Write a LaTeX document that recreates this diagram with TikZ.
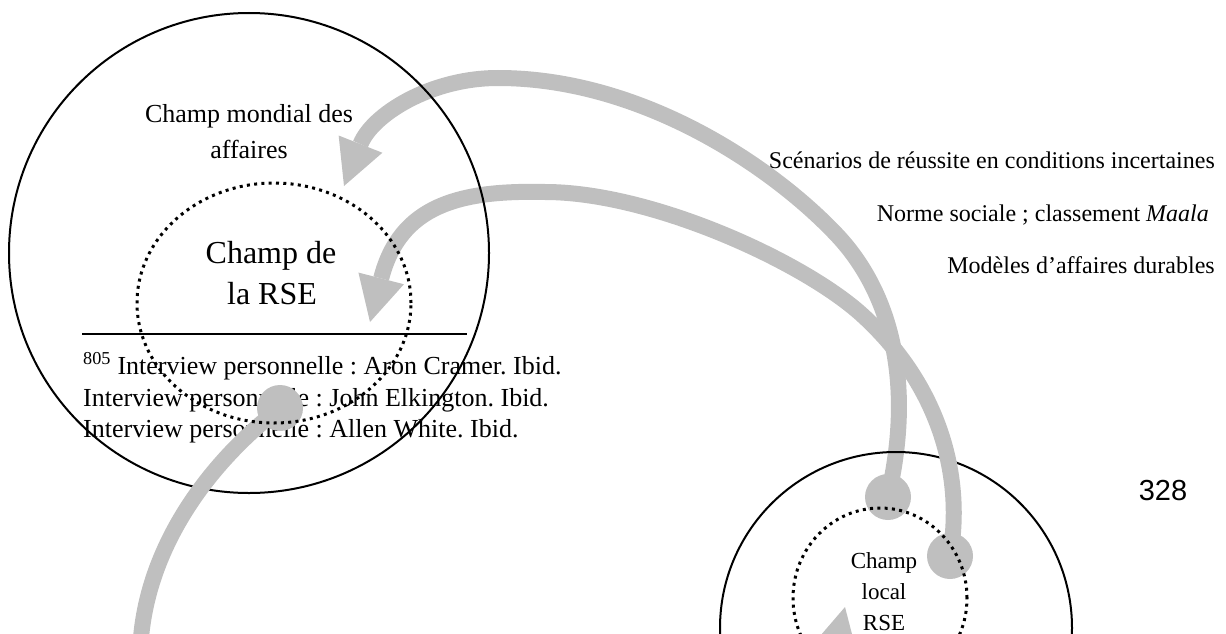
\documentclass[tikz,border=0pt]{standalone}
\usepackage{fontspec}
\setmainfont{Liberation Serif}
\newfontfamily\arialfont{Liberation Sans}
\usetikzlibrary{arrows.meta,shapes.geometric}
\definecolor{arrowgray}{RGB}{191,191,191}
\frenchspacing
\begin{document}
\begin{tikzpicture}[x=1pt,y=-1pt,
  field/.style={draw=black, line width=2pt, circle, inner sep=0pt},
  dotfield/.style={draw=black, line width=3pt, dash pattern=on 3pt off 4.3pt, ellipse, inner sep=0pt},
  ball/.style={circle, fill=arrowgray, minimum size=46pt, inner sep=0pt},
  shaft/.style={draw=arrowgray, line width=16pt, -{Triangle[length=45pt,width=47pt,line width=0pt]}},
  lbl/.style={inner sep=0pt, font=\fontsize{26}{31}\selectfont},
  big/.style={inner sep=0pt, font=\fontsize{32}{38}\selectfont},
  side/.style={inner sep=0pt, font=\fontsize{24}{29}\selectfont, anchor=base east},
  small/.style={inner sep=0pt, font=\fontsize{23}{28}\selectfont, anchor=base},
  rule/.style={draw=black, line width=2pt}
]
\useasboundingbox (0,0) rectangle (1226,634);
\clip (0,0) rectangle (1226,634);

% texts
\node[lbl, anchor=base] (m1) at (249,122) {Champ mondial des};
\node[lbl, anchor=base] (m2) at (249,158) {affaires};
\node[big, anchor=base] (r1) at (271,263) {Champ de};
\node[big, anchor=base] (r2) at (272,304) {la RSE};
\node[lbl, anchor=base west] (f1) at (83,374) {\textsuperscript{805} Interview personnelle : Aron Cramer. Ibid.};
\node[lbl, anchor=base west] (f2) at (83,406) {Interview personnelle : John Elkington. Ibid.};
\node[lbl, anchor=base west] (f3) at (83,437) {Interview personnelle : Allen White. Ibid.};
\node[side] (s1) at (1215,168) {Scénarios de réussite en conditions incertaines};
\node[side] (s2) at (1209,221) {Norme sociale ; classement \textit{Maala}};
\node[side] (s3) at (1215,273) {Modèles d’affaires durables};
\node[small] (l1) at (884,568) {Champ};
\node[small] (l2) at (884,599) {local};
\node[small] (l3) at (884,630) {RSE};
\node[inner sep=0pt, anchor=base, font=\arialfont\fontsize{29}{34}\selectfont] (pg) at (1163,500) {328};

% upper arrow
\coordinate (tipU) at (344,186);
\node[ball] (b1) at (888,497) {};
\draw[shaft] (b1.center) .. controls (915,380) and (890,290) .. (835,233)
  .. controls (770,165) and (640,78) .. (498,78)
  .. controls (430,78) and (372,115) .. (tipU);

% right circle
\node[field, minimum size=352pt] (loc) at (896,628) {};

% lower arrow
\coordinate (tipL) at (370,322);
\node[ball] (b2) at (950,556) {};
\draw[shaft] (b2.center) .. controls (965,470) and (935,380) .. (860,313)
  .. controls (800,260) and (650,192) .. (545,192)
  .. controls (460,190) and (400,205) .. (tipL);

% left circle
\node[field, minimum size=480pt] (glob) at (249,253) {};

% bottom arrow
\coordinate (tipB) at (845,607);
\node[ball] (b3) at (280,408) {};
\draw[shaft] (b3.center) .. controls (200,470) and (140,560) .. (140,660)
  .. controls (140,800) and (800,800) .. (tipB);

% footnote rule
\coordinate (ruleA) at (82,334);
\coordinate (ruleB) at (467,334);
\draw[rule] (ruleA) -- (ruleB);

% dotted inner fields
\node[dotfield, minimum width=274pt, minimum height=240pt] (rse) at (274,303) {};
\node[dotfield, minimum width=174pt, minimum height=180pt] (lrse) at (880,598) {};
\end{tikzpicture}
\end{document}
